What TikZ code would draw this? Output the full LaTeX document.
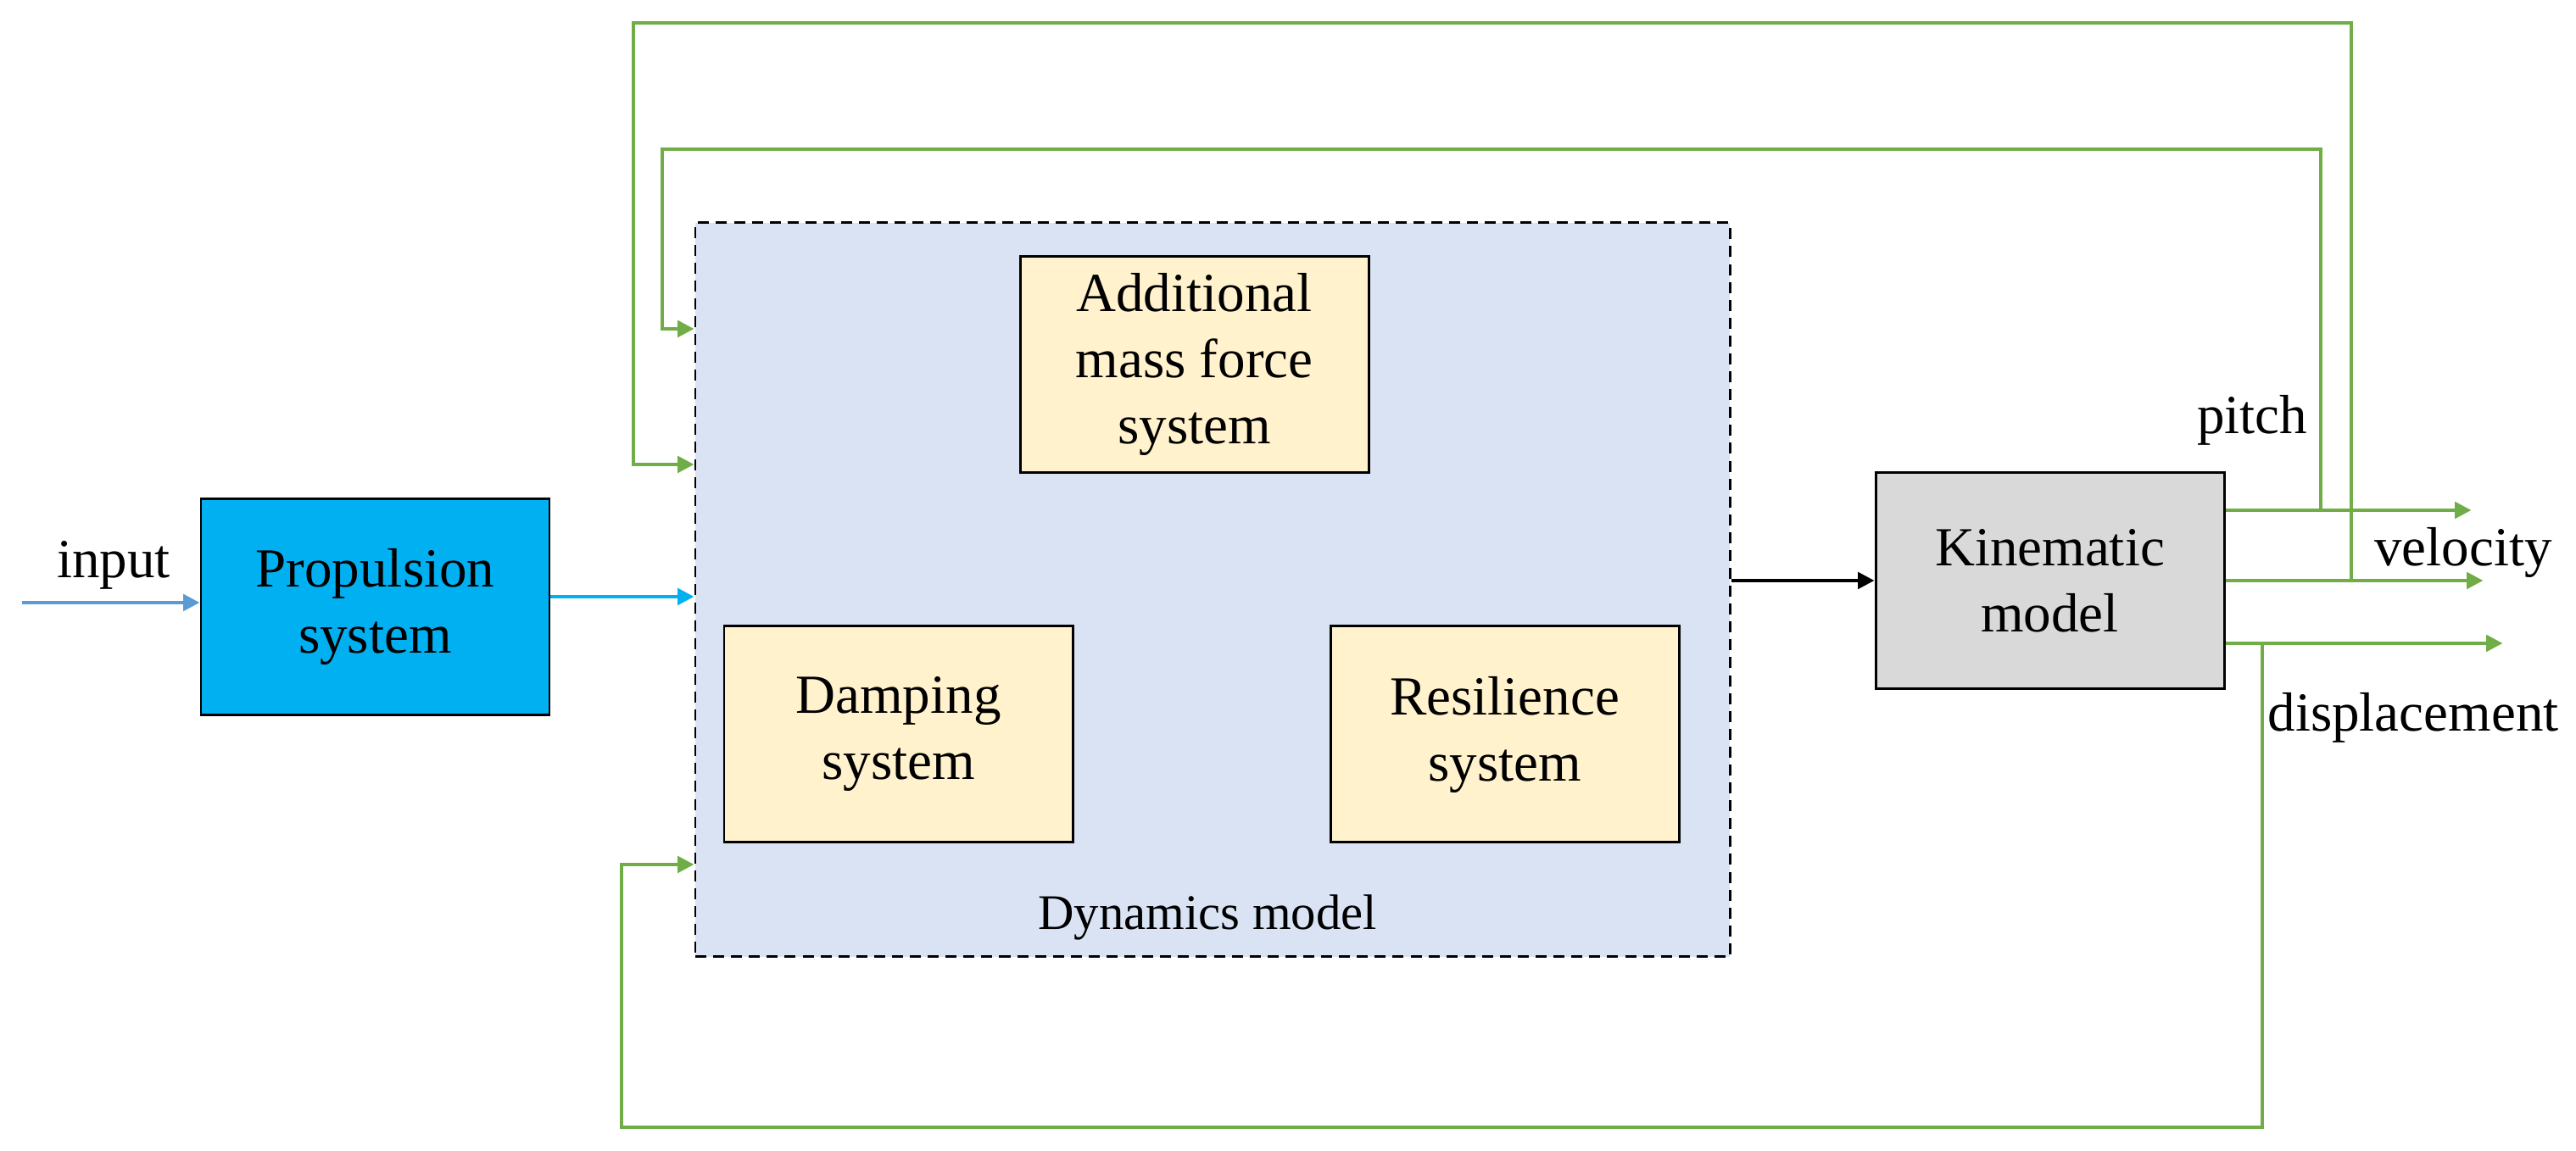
\documentclass[tikz,border=0pt]{standalone}
\usepackage{fontspec}
\setmainfont{Liberation Serif}
\usetikzlibrary{arrows.meta}

\definecolor{propblue}{HTML}{00B0F0}
\definecolor{inblue}{HTML}{5B9BD5}
\definecolor{dynblue}{HTML}{DAE3F3}
\definecolor{subyellow}{HTML}{FFF2CC}
\definecolor{kingray}{HTML}{D9D9D9}
\definecolor{loopgreen}{HTML}{70AD47}

\begin{document}
\begin{tikzpicture}[>={Triangle[length=5.5pt,width=5.5pt]}]

      % Styles for the blocks, the inner subsystems and the signal lines
      \tikzstyle{block}=[draw=black, line width=0.85pt, minimum width=4.11cm, minimum height=2.55cm, inner sep=0pt, align=center, font=\fontsize{18.5}{22.2}\selectfont]
      \tikzstyle{subsys}=[block, fill=subyellow]
      \tikzstyle{sigtext}=[anchor=base, inner sep=0pt, font=\fontsize{18.5}{22.2}\selectfont]
      \tikzstyle{signal}=[->, line width=1.15pt]
      \tikzstyle{feedback}=[signal, draw=loopgreen, color=loopgreen]

      % Define x positions of the feedback lines and their heights
      \def\px{27.37}     % pitch feedback, vertical part
      \def\vx{27.73}     % velocity feedback, vertical part
      \def\dx{26.68}     % displacement feedback, vertical part

      \useasboundingbox (0,0) rectangle (30.38,13.58);

      % Dynamics model: dashed container with its three subsystems
      \node [draw=black, dash pattern=on 3.7pt off 2.3pt, line width=0.85pt, fill=dynblue, minimum width=12.2cm, minimum height=8.66cm, inner sep=0pt] (dyn) at (14.30,6.62) {};
      \node [subsys] (amass) at (14.085,9.28) {Additional\\mass force\\system};
      \node [subsys] (damp) at (10.595,4.915) {Damping\\system};
      \node [subsys] (resil) at (17.745,4.915) {Resilience\\system};
      \node [sigtext, font=\fontsize{16.7}{20}\selectfont] (dynname) at (14.24,2.61) {Dynamics model};

      % Propulsion and kinematic blocks
      \node [block, fill=propblue] (prop) at (4.425,6.42) {Propulsion\\system};
      \node [block, fill=kingray] (kin) at (24.175,6.73) {Kinematic\\model};

      % Input into the propulsion system
      \coordinate (inp) at (0.26,6.47);
      \draw [signal, draw=inblue, color=inblue] (inp) -- (inp -| prop.west);
      \node [sigtext] (inname) at (1.34,6.76) {input};

      % Thrust into the dynamics model, then on to the kinematic model
      \coordinate (thrust) at ([yshift=1.2mm]prop.east);
      \draw [signal, draw=propblue, color=propblue] (thrust) -- (thrust -| dyn.west);
      \draw [signal] (kin.west -| dyn.east) -- (kin.west);

      % The three outputs
      \coordinate (pitch) at ([yshift=8.3mm]kin.east);
      \coordinate (vel) at (kin.east);
      \coordinate (disp) at ([yshift=-7.4mm]kin.east);
      \draw [feedback] (pitch) -- ++(2.90,0) coordinate (pitchend);
      \draw [feedback] (vel) -- ++(3.04,0) coordinate (velend);
      \draw [feedback] (disp) -- ++(3.27,0) coordinate (dispend);

      \node [sigtext] (pitchname) at (26.56,8.46) {pitch};
      \node [sigtext] (velname) at (29.05,6.90) {velocity};
      \node [sigtext] (dispname) at (28.46,4.95) {displacement};

      % Feedback of the outputs to the dynamics model
      \coordinate (pj) at (pitch -| \px,0);
      \coordinate (vj) at (vel -| \vx,0);
      \coordinate (dj) at (disp -| \dx,0);
      \draw [feedback] (pj) |- (7.81,11.82) |- (dyn.west |- 0,9.70);
      \draw [feedback] (vj) |- (7.47,13.31) |- (dyn.west |- 0,8.10);
      \draw [feedback] (dj) |- (7.33,0.28) |- (dyn.west |- 0,3.38);

\end{tikzpicture}
\end{document}
